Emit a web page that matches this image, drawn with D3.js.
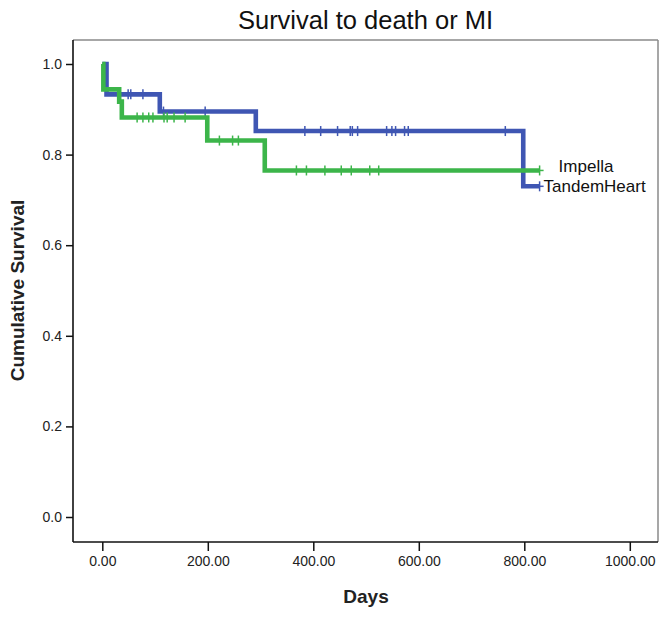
<!DOCTYPE html>
<html>
<head>
<meta charset="utf-8">
<script src="https://cdn.jsdelivr.net/npm/d3@7"></script>
<style>
  html, body { margin: 0; padding: 0; background: #fff; }
  svg { display: block; font-family: "Liberation Sans", Arial, sans-serif; }
</style>
</head>
<body>
<svg id="chart" width="669" height="617"></svg>
<script>
// ---- Data ----
const groups = ["TandemHeart", "Impella"];

const tandemTimes = [0, 8, 109, 291, 798, 829];
const tandemSurv  = [1.0, 0.933, 0.895, 0.852, 0.730, 0.730];
const tandemCensored = [49, 54, 77, 116, 195, 384, 414, 446, 470, 474, 484, 539, 549, 556, 573, 580, 764, 829];

const impellaTimes = [0, 2, 32, 37, 199, 308, 829];
const impellaSurv  = [1.0, 0.944, 0.917, 0.882, 0.831, 0.765, 0.765];
const impellaCensored = [66, 77, 88, 96, 117, 123, 136, 157, 222, 247, 258, 368, 387, 422, 453, 472, 507, 524, 829];

const xTicks = [0, 200, 400, 600, 800, 1000];
const yTicks = [0, 0.2, 0.4, 0.6, 0.8, 1.0];

const titleText = "Survival to death or MI";
const xTitle = "Days";
const yTitle = "Cumulative Survival";

// ---- Layout ----
const svg = d3.select("#chart");
const frame = { left: 73, right: 658, top: 40, bottom: 542 };

const x = d3.scaleLinear().domain([0, 1000]).range([102.3, 629.8]);
const y = d3.scaleLinear().domain([0, 1]).range([517, 64]);

const colors = { TandemHeart: "#3f56b3", Impella: "#3cb54a" };

// frame: top/right gray borders
svg.append("line").attr("x1", frame.left).attr("x2", frame.right)
  .attr("y1", frame.top).attr("y2", frame.top)
  .attr("stroke", "#8a8a8a").attr("stroke-width", 1.5);
svg.append("line").attr("x1", frame.right).attr("x2", frame.right)
  .attr("y1", frame.top).attr("y2", frame.bottom)
  .attr("stroke", "#8a8a8a").attr("stroke-width", 1.5);

// axes
const xAxis = d3.axisBottom(x).tickValues(xTicks).tickFormat(d3.format(".2f"))
  .tickSize(9).tickPadding(5);
const gx = svg.append("g").attr("transform", `translate(0,${frame.bottom})`).call(xAxis);
gx.select(".domain").remove();
gx.selectAll(".tick line").attr("stroke", "#111").attr("stroke-width", 1.5);
gx.selectAll(".tick text").attr("font-size", 14).attr("fill", "#222")
  .attr("font-family", "'Liberation Sans', Arial, sans-serif");

const yAxis = d3.axisLeft(y).tickValues(yTicks).tickFormat(d3.format(".1f"))
  .tickSize(7).tickPadding(4);
const gy = svg.append("g").attr("transform", `translate(${frame.left},0)`).call(yAxis);
gy.select(".domain").remove();
gy.selectAll(".tick line").attr("stroke", "#111").attr("stroke-width", 1.5);
gy.selectAll(".tick text").attr("font-size", 14).attr("fill", "#222")
  .attr("font-family", "'Liberation Sans', Arial, sans-serif");

// left and bottom axis lines
svg.append("line").attr("x1", frame.left).attr("x2", frame.left)
  .attr("y1", frame.top).attr("y2", frame.bottom)
  .attr("stroke", "#111").attr("stroke-width", 1.6);
svg.append("line").attr("x1", frame.left).attr("x2", frame.right)
  .attr("y1", frame.bottom).attr("y2", frame.bottom)
  .attr("stroke", "#111").attr("stroke-width", 1.6);

// ---- Curves ----
const line = d3.line().x(d => x(d[0])).y(d => y(d[1])).curve(d3.curveStepAfter);

function survAt(times, surv, t) {
  let s = surv[0];
  for (let i = 0; i < times.length; i++) if (times[i] <= t) s = surv[i];
  return s;
}

function drawCurve(name, times, surv, censored) {
  const pts = times.map((t, i) => [t, surv[i]]);
  const g = svg.append("g");
  g.append("path").attr("d", line(pts))
    .attr("fill", "none").attr("stroke", colors[name])
    .attr("stroke-width", 4.6).attr("stroke-linejoin", "miter");
  g.selectAll("line.c").data(censored).enter().append("line")
    .attr("x1", d => x(d)).attr("x2", d => x(d))
    .attr("y1", d => y(survAt(times, surv, d)) - 5)
    .attr("y2", d => y(survAt(times, surv, d)) + 5)
    .attr("stroke", colors[name]).attr("stroke-width", 1.5);
  const last = times[times.length - 1];
  const ly = y(surv[surv.length - 1]);
  g.append("line").attr("x1", x(last) - 1).attr("x2", x(last) + 4)
    .attr("y1", ly).attr("y2", ly)
    .attr("stroke", colors[name]).attr("stroke-width", 1.5);
}

drawCurve("TandemHeart", tandemTimes, tandemSurv, tandemCensored);
drawCurve("Impella", impellaTimes, impellaSurv, impellaCensored);

// ---- Curve labels ----
const endT = 829;
svg.append("text").attr("x", x(endT) + 19).attr("y", y(impellaSurv[impellaSurv.length - 1]) + 2)
  .attr("font-size", 17).attr("fill", "#111").text(groups[1]);
svg.append("text").attr("x", x(endT) + 4).attr("y", y(tandemSurv[tandemSurv.length - 1]) + 6)
  .attr("font-size", 17).attr("fill", "#111").text(groups[0]);

// ---- Titles ----
svg.append("text").attr("x", (frame.left + frame.right) / 2).attr("y", 29)
  .attr("text-anchor", "middle").attr("font-size", 25.5).attr("fill", "#111")
  .text(titleText);

svg.append("text").attr("x", 366).attr("y", 603)
  .attr("text-anchor", "middle").attr("font-size", 19).attr("font-weight", "bold")
  .attr("fill", "#222").text(xTitle);

svg.append("text").attr("transform", "translate(23.5,290.5) rotate(-90)")
  .attr("text-anchor", "middle").attr("font-size", 19).attr("font-weight", "bold")
  .attr("fill", "#222").text(yTitle);
</script>
</body>
</html>
